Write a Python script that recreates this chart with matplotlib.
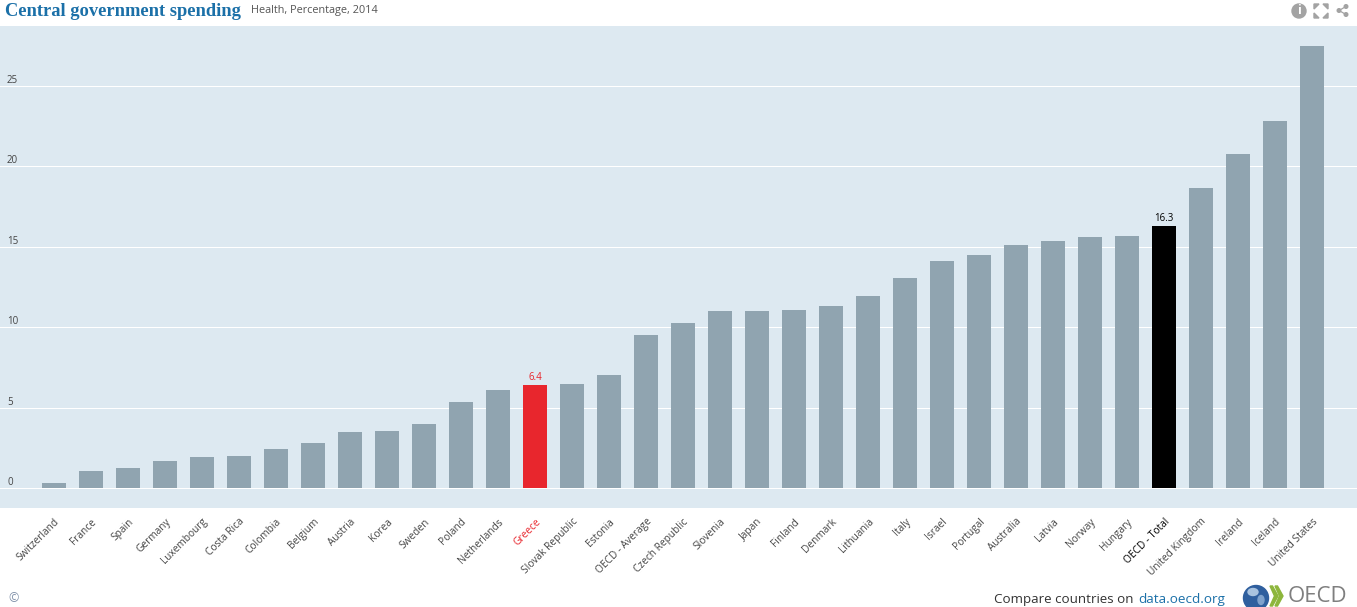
import matplotlib
matplotlib.use('Agg')
from matplotlib import pyplot as plt
from matplotlib.patches import Circle, Polygon, Ellipse

countries = ['Switzerland', 'France', 'Spain', 'Germany', 'Luxembourg', 'Costa Rica', 'Colombia',
             'Belgium', 'Austria', 'Korea', 'Sweden', 'Poland', 'Netherlands', 'Greece',
             'Slovak Republic', 'Estonia', 'OECD - Average', 'Czech Republic', 'Slovenia', 'Japan',
             'Finland', 'Denmark', 'Lithuania', 'Italy', 'Israel', 'Portugal', 'Australia', 'Latvia',
             'Norway', 'Hungary', 'OECD - Total', 'United Kingdom', 'Ireland', 'Iceland', 'United States']
values = [0.3, 1.06, 1.24, 1.68, 1.93, 1.99, 2.43, 2.8, 3.48, 3.54, 3.98, 5.35, 6.1, 6.4,
          6.45, 7.0, 9.5, 10.26, 11.0, 11.0, 11.1, 11.3, 11.94, 13.06, 14.1, 14.5, 15.1, 15.36,
          15.6, 15.67, 16.3, 18.65, 20.8, 22.8, 27.5]
yticks = [0, 5, 10, 15, 20, 25]
highlight = {'Greece': '#E8262D', 'OECD - Total': '#000000'}

BG = '#DDE9F1'
BAR = '#90A4B0'
W, H = 1357, 607

fig = plt.figure(figsize=(W / 100, H / 100), dpi=100, facecolor='white')
plt.rcParams['font.family'] = ['Open Sans', 'DejaVu Sans']

# plot band runs edge to edge, bars sit 37px apart
ax = fig.add_axes([0, (H - 508) / H, 1, (508 - 26) / H], facecolor=BG)
ax.set_xlim(-54 / 37, (W - 54) / 37)
ax.set_ylim(-20 / 16.08, 462 / 16.08)
for s in ax.spines.values():
    s.set_visible(False)

x = list(range(len(countries)))
colors = [highlight.get(c, BAR) for c in countries]
ax.bar(x, values, width=24 / 37, color=colors, zorder=3)

ax.set_yticks(yticks)
ax.set_yticklabels([])
ax.grid(axis='y', color='white', lw=0.72, zorder=1)
ax.set_axisbelow(True)
ax.tick_params(axis='both', length=0)
for v in yticks:
    ax.annotate(str(v), (0, v), xycoords=ax.get_yaxis_transform(), xytext=(7, 0),
                textcoords='offset pixels', fontsize=7, color='#444444', va='bottom', zorder=4)

ax.set_xticks(x)
ax.set_xticklabels(countries, rotation=45, ha='right', va='top', rotation_mode='anchor', fontsize=7.3, color='#444444')
ax.tick_params(axis='x', pad=6)
for lab, c in zip(ax.get_xticklabels(), countries):
    if c in highlight:
        lab.set_color(highlight[c])

for c in highlight:
    i = countries.index(c)
    ax.annotate(f'{values[i]:.1f}', (i, values[i]), xytext=(0, 2), textcoords='offset pixels',
                ha='center', va='bottom', fontsize=7, color=highlight[c], zorder=4)

# overlay in pixel coordinates for header and footer bits
ov = fig.add_axes([0, 0, 1, 1], facecolor='none')
ov.set_xlim(0, W)
ov.set_ylim(H, 0)
ov.axis('off')

ov.text(5, 11, 'Central government spending', family='Liberation Serif', fontweight='bold',
        fontsize=13.3, color='#1B70A8', va='center')
ov.text(251, 11, 'Health, Percentage, 2014', fontsize=7.8, color='#555555', va='center')

# info / expand / share icons
ICON = '#A3A3A3'
ov.add_patch(Circle((1299, 11), 7, color=ICON))
ov.text(1299, 10.5, 'i', fontsize=9, fontweight='bold', color='white', ha='center', va='center')
for dx, dy in [(-1, -1), (1, -1), (-1, 1), (1, 1)]:
    cx, cy = 1321 + dx * 4.5, 11 + dy * 4.5
    ov.add_patch(Polygon([(cx + dx * 2.5, cy + dy * 2.5), (cx - dx * 2.5, cy + dy * 2.5),
                          (cx + dx * 2.5, cy - dy * 2.5)], color=ICON))
ov.plot([1339, 1346], [10.5, 6.5], color=ICON, lw=0.9)
ov.plot([1339, 1346], [10.5, 14.5], color=ICON, lw=0.9)
for px, py in [(1339, 10.5), (1346, 6.5), (1346, 14.5)]:
    ov.add_patch(Circle((px, py), 1.8, color=ICON))

ov.text(8, 599, '\u00a9', fontsize=9, color='#7F8FA8', va='center')
ov.text(994, 600, 'Compare countries on ', fontsize=9.6, color='#333333', va='center')
ov.text(1138, 600, 'data.oecd.org', fontsize=9.7, color='#1B70A8', va='center')

# logo
ov.add_patch(Circle((1256, 598), 12.5, color='#2F5F9E'))
ov.add_patch(Ellipse((1253, 592), 10, 7, color='#A9C3DF'))
ov.add_patch(Ellipse((1261, 600), 6, 9, color='#7FA2CC'))
for off in (0, 5):
    xc = 1270 + off
    ov.add_patch(Polygon([(xc, 586), (xc + 2.5, 586), (xc + 8, 596), (xc + 2.5, 606), (xc, 606), (xc + 4.5, 596)],
                         color='#8DB63C'))
ov.text(1288, 596.5, 'OECD', fontsize=16, color='#7F7F7F', va='center')

fig.savefig('out.png', dpi=100)
